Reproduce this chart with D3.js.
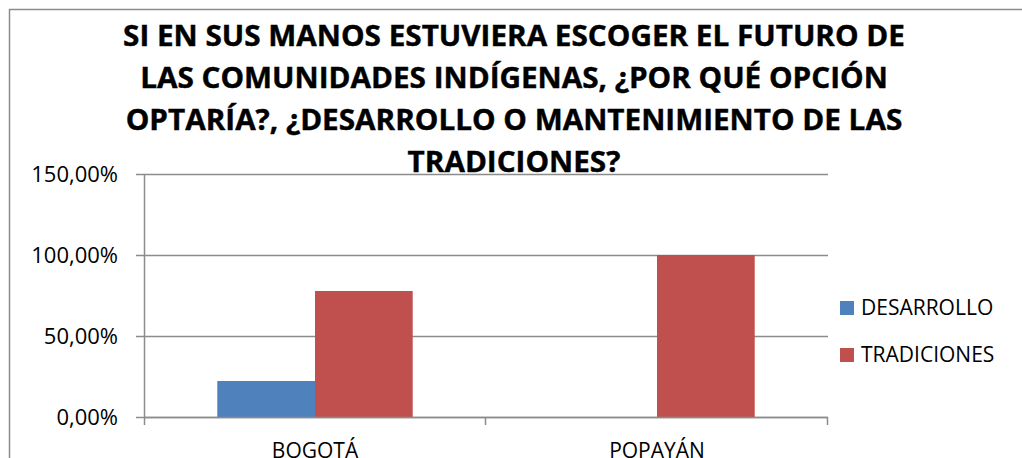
<!DOCTYPE html>
<html>
<head>
<meta charset="utf-8">
<script src="https://cdn.jsdelivr.net/npm/d3@7"></script>
<style>
  body { margin: 0; background: #fff; }
  text { font-family: "Open Sans", sans-serif; fill: #000; }
</style>
</head>
<body>
<div id="chart"></div>
<script>
// data
var categories = ["BOGOTÁ", "POPAYÁN"];
var seriesNames = ["DESARROLLO", "TRADICIONES"];
var desarrollo = [0.2222, 0];
var tradiciones = [0.7778, 1.0];
var yTicks = [0, 0.5, 1.0, 1.5];
var titleLines = [
  "SI EN SUS MANOS ESTUVIERA ESCOGER EL FUTURO DE",
  "LAS COMUNIDADES INDÍGENAS, ¿POR QUÉ OPCIÓN",
  "OPTARÍA?, ¿DESARROLLO O MANTENIMIENTO DE LAS",
  "TRADICIONES?"
];
var colors = ["#4F81BD", "#C0504D"];

var W = 1022, H = 458;
var plot = {left: 144, right: 828, top: 174, bottom: 417};

var svg = d3.select("#chart").append("svg")
    .attr("width", W)
    .attr("height", H);

// outer chart frame (runs off the right and bottom edges)
svg.append("path")
    .attr("d", "M9.5," + (H + 5) + "V9.5H" + (W + 5))
    .attr("fill", "none")
    .attr("stroke", "#8c8c8c")
    .attr("stroke-width", 1.5);

var x = d3.scaleBand()
    .domain(categories)
    .range([plot.left, plot.right]);

// excel gap width 150% -> two bars take 2/3.5 of the band
var groupW = x.bandwidth() * 2 / 3.5;
var x1 = d3.scaleBand()
    .domain(seriesNames)
    .range([0, groupW]);

var y = d3.scaleLinear()
    .domain([0, 1.5])
    .range([plot.bottom, plot.top]);

// gridlines
svg.append("g")
  .selectAll("line")
  .data(yTicks)
  .join("line")
    .attr("x1", plot.left - 8)
    .attr("x2", plot.right)
    .attr("y1", d => Math.round(y(d)) + 0.5)
    .attr("y2", d => Math.round(y(d)) + 0.5)
    .attr("stroke", "#8c8c8c")
    .attr("stroke-width", 1.5);

// y tick labels
svg.append("g")
  .selectAll("text")
  .data(yTicks)
  .join("text")
    .attr("x", 118)
    .attr("y", d => y(d) + 8)
    .attr("text-anchor", "end")
    .style("font-size", "22px")
    .text(d => d3.format(".2f")(d * 100).replace(".", ",") + "%");

// bars
var rows = categories.map((c, i) => ({cat: c, vals: [desarrollo[i], tradiciones[i]]}));
var groups = svg.append("g")
  .selectAll("g")
  .data(rows)
  .join("g")
    .attr("transform", d => "translate(" + (x(d.cat) + (x.bandwidth() - groupW) / 2) + ",0)");

groups.selectAll("rect")
  .data(d => d.vals.map((v, j) => ({name: seriesNames[j], v: v, j: j})))
  .join("rect")
    .attr("x", d => x1(d.name))
    .attr("width", x1.bandwidth())
    .attr("y", d => y(d.v))
    .attr("height", d => y(0) - y(d.v))
    .attr("fill", d => colors[d.j]);

// y axis line
svg.append("line")
    .attr("x1", plot.left + 0.5).attr("x2", plot.left + 0.5)
    .attr("y1", plot.top).attr("y2", plot.bottom + 8)
    .attr("stroke", "#8c8c8c")
    .attr("stroke-width", 1.5);

// x axis line + category ticks
svg.append("line")
    .attr("x1", plot.left).attr("x2", plot.right)
    .attr("y1", y(0) + 0.5).attr("y2", y(0) + 0.5)
    .attr("stroke", "#8c8c8c")
    .attr("stroke-width", 1.5);
var tickXs = categories.map(c => x(c) + x.bandwidth());
svg.append("g")
  .selectAll("line")
  .data(tickXs)
  .join("line")
    .attr("x1", d => Math.round(d) - 0.5)
    .attr("x2", d => Math.round(d) - 0.5)
    .attr("y1", y(0))
    .attr("y2", y(0) + 8)
    .attr("stroke", "#8c8c8c")
    .attr("stroke-width", 1.5);

// category labels (cut by the bottom edge, as in the original)
svg.append("g")
  .selectAll("text")
  .data(categories)
  .join("text")
    .attr("x", d => x(d) + x.bandwidth() / 2)
    .attr("y", 458)
    .attr("text-anchor", "middle")
    .style("font-size", "21px")
    .text(d => d);

// legend
var legend = svg.append("g")
  .selectAll("g")
  .data(seriesNames)
  .join("g")
    .attr("transform", (d, i) => "translate(840," + (301 + i * 47) + ")");
legend.append("rect")
    .attr("width", 14)
    .attr("height", 14)
    .attr("fill", (d, i) => colors[i]);
legend.append("text")
    .attr("x", 21)
    .attr("y", 14)
    .style("font-size", "21px")
    .text(d => d);

// title, squeezed a little to mimic the narrow Calibri
var title = svg.append("g");
var tl = title.selectAll("text")
  .data(titleLines)
  .join("text")
    .attr("x", 514)
    .attr("y", (d, i) => 46 + i * 42)
    .attr("text-anchor", "middle")
    .style("font-size", "28px")
    .style("font-weight", "bold")
    .attr("stroke", "#000")
    .attr("stroke-width", 0.4)
    .text(d => d);
var w0 = tl.nodes()[0].getComputedTextLength();
var k = 782 / w0;
tl.attr("transform", "translate(514,0) scale(" + k + ",1) translate(-514,0)");
</script>
</body>
</html>
